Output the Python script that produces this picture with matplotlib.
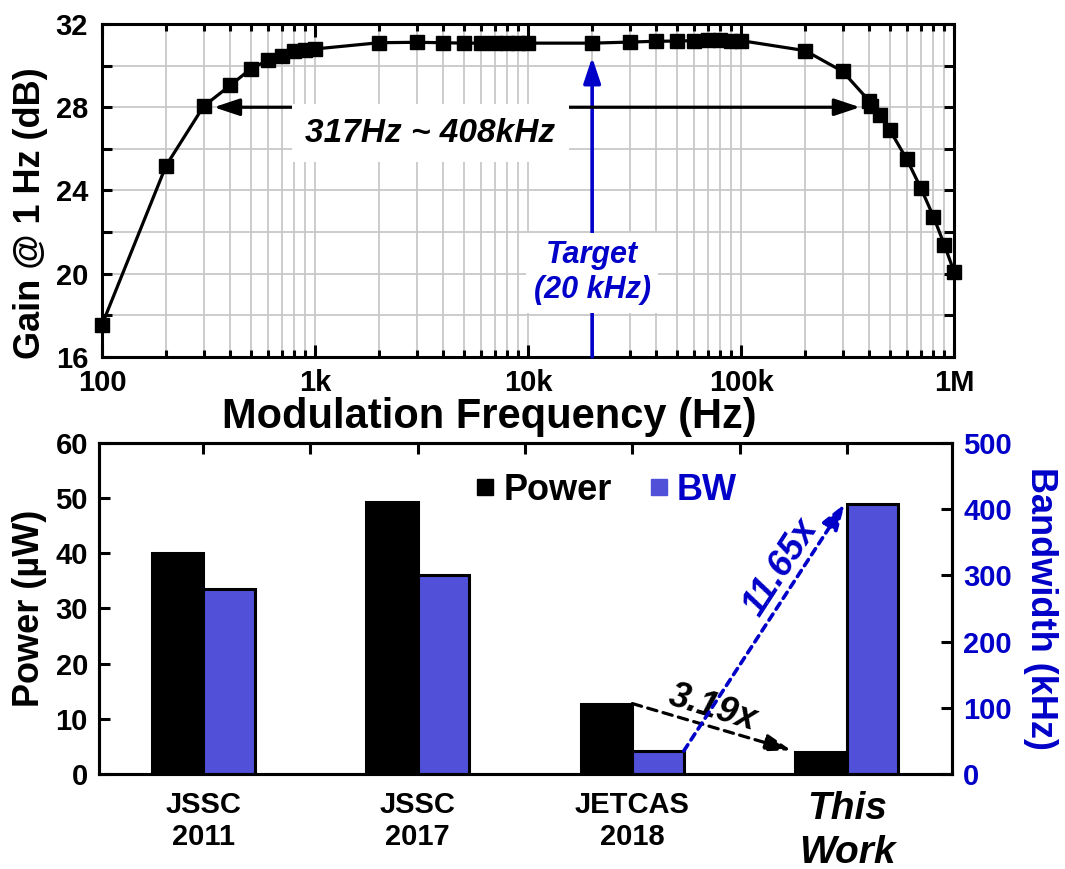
import numpy as np
import matplotlib
matplotlib.use('Agg')
import matplotlib.pyplot as plt
from matplotlib.ticker import LogLocator, MultipleLocator, FixedLocator, NullFormatter
from matplotlib.lines import Line2D

# gain vs modulation frequency
freq = [100, 200, 300, 400, 500, 600, 700, 800, 900,
        1e3, 2e3, 3e3, 4e3, 5e3, 6e3, 7e3, 8e3, 9e3,
        1e4, 2e4, 3e4, 4e4, 5e4, 6e4, 7e4, 8e4, 9e4,
        1e5, 2e5, 3e5, 4e5, 4.08e5, 4.5e5, 5e5, 6e5, 7e5, 8e5, 9e5, 1e6]
gain = [17.55, 25.2, 28.05, 29.05, 29.85, 30.25, 30.45, 30.7, 30.75,
        30.8, 31.1, 31.12, 31.1, 31.08, 31.08, 31.08, 31.08, 31.08,
        31.08, 31.08, 31.13, 31.17, 31.18, 31.2, 31.22, 31.22, 31.2,
        31.2, 30.72, 29.72, 28.3, 28.05, 27.63, 26.9, 25.5, 24.1, 22.75, 21.4, 20.1]
freq_ticks = [100, 1e3, 1e4, 1e5, 1e6]
freq_labels = ['100', '1k', '10k', '100k', '1M']

# power / bandwidth comparison
works = ['JSSC\n2011', 'JSSC\n2017', 'JETCAS\n2018', 'This\nWork']
power = [40.0, 49.3, 12.76, 4.0]      # uW
bw = [280, 300, 35, 408]              # kHz

BAR_BLUE = '#5050d8'
TXT_BLUE = '#0000c8'

plt.rcParams['font.family'] = ['Liberation Sans', 'DejaVu Sans']
plt.rcParams['font.weight'] = 'bold'
plt.rcParams['axes.labelweight'] = 'bold'
plt.rcParams['axes.linewidth'] = 2.2

fig = plt.figure(figsize=(10.65, 8.69), dpi=100)

# ---------- top: gain curve ----------
ax1 = fig.add_axes([0.0958, 0.5892, 0.8, 0.3832])
ax1.plot(freq, gain, '-s', color='k', lw=2.3, ms=10, zorder=5, clip_on=False)
ax1.set_xscale('log')
ax1.set_xlim(100, 1e6)
ax1.set_ylim(16, 32)
ax1.set_xticks(freq_ticks)
ax1.set_xticklabels(freq_labels)
ax1.xaxis.set_minor_locator(LogLocator(base=10, subs=np.arange(2, 10), numticks=20))
ax1.xaxis.set_minor_formatter(NullFormatter())
ax1.set_yticks(range(16, 33, 4))
ax1.yaxis.set_minor_locator(MultipleLocator(2))
ax1.grid(which='both', color='#c8c8c8', lw=1.3)
ax1.set_axisbelow(True)
ax1.tick_params(which='both', direction='in', top=True, right=True, width=2.2, labelsize=21)
ax1.tick_params(axis='x', which='major', length=9, pad=9)
ax1.tick_params(axis='x', which='minor', length=5)
ax1.tick_params(axis='y', which='both', length=7, pad=10)
ax1.set_xlabel('Modulation Frequency (Hz)', fontsize=30, va='center')
ax1.xaxis.set_label_coords(0.455, -0.18)
ax1.set_ylabel('Gain @ 1 Hz (dB)', fontsize=26, va='center')
ax1.yaxis.set_label_coords(-0.084, 0.432)

ax1.annotate('', xy=(335, 28), xytext=(3.62e5, 28),
             arrowprops=dict(arrowstyle='<|-|>,head_length=0.6,head_width=0.2',
                             color='k', lw=2.3, mutation_scale=26, shrinkA=0, shrinkB=0),
             zorder=4)
ax1.text(3470, 26.76, '317Hz ~ 408kHz', ha='center', va='center', fontsize=24,
         style='italic', zorder=4,
         bbox=dict(fc='white', ec='none', boxstyle='square,pad=0.4'))

ax1.annotate('', xy=(2e4, 30.4), xytext=(2e4, 16),
             arrowprops=dict(arrowstyle='-|>,head_length=0.6,head_width=0.2',
                             color=TXT_BLUE, lw=2.6, mutation_scale=26, shrinkA=0, shrinkB=0),
             zorder=3)
ax1.text(2e4, 20.05, 'Target\n(20 kHz)', ha='center', va='center', fontsize=22,
         style='italic', color=TXT_BLUE, linespacing=1.2, zorder=4,
         bbox=dict(fc='white', ec='none', boxstyle='square,pad=0.25'))

# ---------- bottom: power and bandwidth ----------
ax = fig.add_axes([0.093, 0.1093, 0.801, 0.3812])
x = np.arange(len(works))
w = 0.24
ax.bar(x, power, -w, align='edge', color='k', edgecolor='k', lw=2.2, zorder=2)
ax.set_xlim(-0.485, 3.49)
ax.set_ylim(0, 60)
ax.set_yticks(range(0, 61, 10))
ax.set_xticks(x)
ax.set_xticklabels(works)
ax.xaxis.set_minor_locator(FixedLocator([0.5, 1.5, 2.5]))
ax.tick_params(axis='x', which='both', direction='in', bottom=False, top=True,
               length=8, width=2.2, labelsize=21, pad=12)
ax.tick_params(axis='y', direction='in', length=8, width=2.2, labelsize=21, pad=8)
lab = ax.get_xticklabels()[-1]
lab.set_fontsize(28)
lab.set_style('italic')
lab.set_linespacing(1.3)
ax.set_ylabel('Power (µW)', fontsize=26, labelpad=6)

ax2 = ax.twinx()
ax2.bar(x, bw, w, align='edge', color=BAR_BLUE, edgecolor='k', lw=2.2, zorder=2)
ax2.set_ylim(0, 500)
ax2.set_yticks(range(0, 501, 100))
ax2.tick_params(axis='y', direction='in', length=8, width=2.2, labelsize=21,
                labelcolor=TXT_BLUE, pad=8)
ax2.set_ylabel('Bandwidth (kHz)', fontsize=26, color=TXT_BLUE, rotation=270,
               va='bottom', labelpad=8)

# improvement arrows
ax.annotate('', xy=(2.74, 4.3), xytext=(2.0, power[2]),
            arrowprops=dict(arrowstyle='-|>,head_length=0.6,head_width=0.2',
                            color='k', lw=2.3, ls=(0, (3, 2)), mutation_scale=26,
                            shrinkA=0, shrinkB=0))
ax.text(2.375, 11.9, '3.19x', rotation=-17, ha='center', va='center', fontsize=26,
        style='italic')
ax2.annotate('', xy=(2.99, bw[3]), xytext=(2.0 + w, bw[2]),
             arrowprops=dict(arrowstyle='-|>,head_length=0.6,head_width=0.2',
                             color=TXT_BLUE, lw=2.6, ls=(0, (2, 1.6)), mutation_scale=26,
                             shrinkA=0, shrinkB=0))
ax2.text(2.69, 311, '11.65x', rotation=57, ha='center', va='center', fontsize=26,
         style='italic', color=TXT_BLUE)

handles = [Line2D([], [], marker='s', ls='none', color='k', ms=11),
           Line2D([], [], marker='s', ls='none', color=BAR_BLUE, ms=11)]
leg = ax2.legend(handles, ['Power', 'BW'], ncol=2, frameon=False, loc='center',
                 bbox_to_anchor=(0.594, 0.857), fontsize=26, handlelength=0.6,
                 handletextpad=0.2, columnspacing=1.0)
leg.get_texts()[1].set_color(TXT_BLUE)

fig.savefig('out.png', dpi=100)
